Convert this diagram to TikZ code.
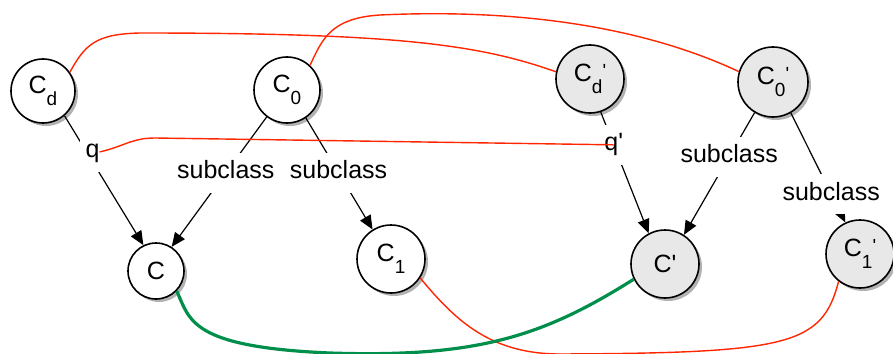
\documentclass[tikz,border=0pt]{standalone}
\usepackage{fontspec}
\newfontfamily\hv{Liberation Sans}
\usetikzlibrary{arrows.meta,shadows}
\definecolor{rd}{RGB}{255,38,0}
\definecolor{gn}{RGB}{0,143,75}
\definecolor{nodegray}{RGB}{232,232,232}
\newcommand\sbx[1]{\raisebox{-12pt}{\fontsize{19}{19}\selectfont #1}}
\newcommand\prm{\raisebox{4pt}{\fontsize{19}{19}\selectfont '}}
\tikzset{
  cls/.style={circle, draw=black, line width=1.6pt, fill=white, minimum size=#1, inner sep=0pt,
    drop shadow={shadow xshift=3pt, shadow yshift=-3pt, opacity=0.3, fill=black}},
  prmcls/.style={cls=#1, fill=nodegray},
  arr/.style={draw=black, line width=1.2pt, -{Triangle[length=14pt,width=12pt]}},
  lbl/.style={fill=white, inner xsep=6pt, inner ysep=8pt, text height=18pt, text depth=6pt},
  redline/.style={draw=rd, line width=1.4pt},
  greenline/.style={draw=gn, line width=3.2pt}
}
\begin{document}
\begin{tikzpicture}[x=1pt, y=-1pt, font=\hv\fontsize{25}{29}\selectfont]
\useasboundingbox (0,0) rectangle (893,353);
% nodes
\node[cls=64] (Cd) at (43,91) {C\sbx{d}};
\node[cls=66] (C0) at (287,90) {C\sbx{0}};
\node[prmcls=68] (Cdp) at (590,79) {C\sbx{d}\prm};
\node[prmcls=70] (C0p) at (773,82) {C\sbx{0}\prm};
\node[cls=56] (C) at (156,271) {C};
\node[cls=68] (C1) at (391,259) {C\sbx{1}};
\node[prmcls=68] (Cp) at (665,264) {C'};
\node[prmcls=68] (C1p) at (860,254) {C\sbx{1}\prm};
% black arrows
\draw[arr] (Cd.-49) -- node[lbl, pos=0.28, xshift=6pt] (q) {q} (C.116);
\draw[arr] (C0.233) -- node[lbl, pos=0.43] (s1) {subclass} (C.57);
\draw[arr] (C0.-56) -- node[lbl, pos=0.49] (s2) {subclass} (C1.122);
\draw[arr] (Cdp.-72) -- node[lbl, pos=0.27] (qp) {q'} (Cp.118);
\draw[arr] (C0p.239) -- node[lbl, pos=0.36] (s3) {subclass} (Cp.57);
\draw[arr] (C0p.-60) -- node[lbl, pos=0.74] (s4) {subclass} (C1p.115);
% red lines
\draw[redline] (Cd.35) .. controls (85,45) and (95,34) .. (140,33)
  .. controls (400,33) and (480,45) .. (Cdp.168);
\draw[redline] (C0.47) .. controls (322,40) and (330,18) .. (380,15)
  .. controls (530,8) and (650,30) .. (C0p.163);
\draw[redline] ([xshift=7pt]q.center) .. controls (125,146) and (132,138) .. (155,138)
  -- (qp.center);
\draw[redline] (C1.-33) .. controls (455,320) and (490,354) .. (560,354)
  .. controls (790,353) and (822,345) .. (C1p.232);
% green line
\draw[greenline] (C.-44) .. controls (190,320) and (190,347) .. (330,353)
  .. controls (480,358) and (545,335) .. (Cp.206);
\end{tikzpicture}
\end{document}
